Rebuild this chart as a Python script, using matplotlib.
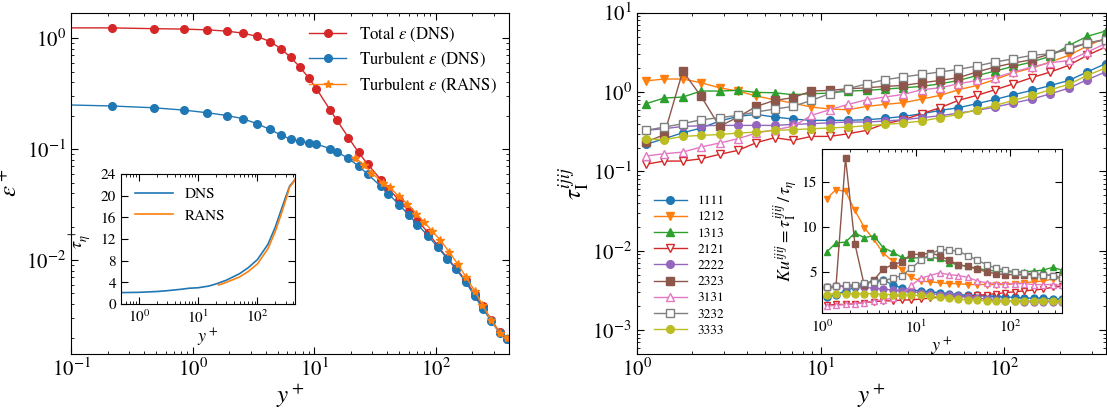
import numpy as np
import matplotlib
matplotlib.use("Agg")
import matplotlib.pyplot as plt

plt.rcParams['font.family'] = ['STIXGeneral', 'DejaVu Serif']
plt.rcParams['mathtext.fontset'] = 'stix'

# ---- left panel: dissipation ----
yp_dns = [0.1, 0.215, 0.476, 0.84, 1.31, 1.91, 2.60, 3.39, 4.31, 5.30, 6.37, 7.60, 8.96, 10.4,
          13.5, 15.3, 19.1, 23.1, 27.5, 35.2, 40.7, 49.8, 60.2, 70.6, 86.3, 104, 124, 146,
          176, 209, 244, 287, 335, 388]
eps_total = [1.24, 1.24, 1.22, 1.21, 1.19, 1.16, 1.11, 1.04, 0.933, 0.807, 0.674, 0.551, 0.441,
             0.351, 0.225, 0.183, 0.127, 0.0933, 0.0731, 0.0532, 0.0441, 0.0346, 0.0275,
             0.0227, 0.0177, 0.0134, 0.0104, 0.00847, 0.00655, 0.0049, 0.00381, 0.00289,
             0.00223, 0.00195]
eps_turb = [0.25, 0.245, 0.236, 0.225, 0.213, 0.201, 0.188, 0.169, 0.151, 0.134, 0.123, 0.118,
            0.114, 0.111, 0.101, 0.0946, 0.0824, 0.0702, 0.0594, 0.0463, 0.0395, 0.0316,
            0.0253, 0.0209, 0.0165, 0.0130, 0.0103, 0.00835, 0.00633, 0.0047, 0.00363,
            0.00279, 0.00219, 0.00195]
yp_rans = [21.8, 25.7, 29.5, 36.8, 41.8, 49.5, 58.0, 69.2, 80.0, 93.1, 109, 129, 152, 177,
           209, 242, 283, 335, 388]
eps_rans = [0.0829, 0.0722, 0.0611, 0.0496, 0.0451, 0.0376, 0.0323, 0.0262, 0.0220, 0.0183,
            0.0151, 0.0118, 0.00914, 0.00702, 0.00525, 0.00395, 0.00289, 0.00221, 0.00199]

# inset: Kolmogorov time scale
yp_tau_dns = [0.5, 1, 2, 3, 5, 7, 10, 15, 20, 30, 50, 70, 100, 150, 200, 250, 300, 350, 400, 430]
tau_dns = [2.1, 2.15, 2.3, 2.45, 2.7, 2.9, 3.0, 3.3, 3.7, 4.4, 5.6, 6.7, 8.2, 11.0, 14.2,
           17.3, 19.8, 21.8, 22.5, 23.0]
yp_tau_rans = [22, 30, 50, 70, 100, 150, 200, 250, 300, 350, 400, 430]
tau_rans = [3.5, 4.0, 5.0, 6.0, 7.4, 10.2, 13.4, 16.5, 19.2, 21.6, 22.4, 23.0]

# ---- right panel: integral time scales ----
yp = [1.12, 1.41, 1.78, 2.24, 2.82, 3.55, 4.47, 5.62, 7.08, 8.91, 11.2, 14.1, 17.8, 22.4,
      28.2, 35.5, 44.7, 56.2, 70.8, 89.1, 112, 141, 178, 224, 282, 355]
comps = ['1111', '1212', '1313', '2121', '2222', '2323', '3131', '3232', '3333']
tau_I = {
    '1111': [0.219, 0.258, 0.307, 0.352, 0.431, 0.493, 0.523, 0.484, 0.457, 0.44, 0.44, 0.44,
             0.448, 0.466, 0.493, 0.533, 0.587, 0.635, 0.713, 0.809, 0.925, 1.05, 1.21, 1.40,
             1.79, 2.28],
    '1212': [1.38, 1.46, 1.46, 1.31, 1.13, 1.03, 0.891, 0.80, 0.727, 0.647, 0.611, 0.599,
             0.659, 0.699, 0.734, 0.816, 0.908, 1.07, 1.21, 1.44, 1.75, 2.0, 2.4, 2.9, 3.8, 4.8],
    '1313': [0.713, 0.84, 0.865, 1.03, 1.03, 1.05, 0.99, 0.98, 0.925, 0.953, 0.97, 1.03, 1.05,
             1.09, 1.13, 1.18, 1.27, 1.40, 1.61, 1.84, 2.11, 2.39, 2.84, 3.87, 5.03, 5.87],
    '2121': [0.123, 0.135, 0.135, 0.144, 0.164, 0.184, 0.230, 0.266, 0.246, 0.276, 0.276,
             0.298, 0.329, 0.399, 0.448, 0.533, 0.635, 0.785, 0.908, 1.07, 1.27, 1.52, 1.79,
             2.17, 2.90, 3.69],
    '2222': [0.329, 0.345, 0.369, 0.376, 0.38, 0.38, 0.38, 0.38, 0.391, 0.399, 0.41, 0.419,
             0.419, 0.431, 0.448, 0.475, 0.503, 0.543, 0.587, 0.647, 0.727, 0.816, 0.95, 1.12,
             1.43, 1.79],
    '2323': [0.234, 0.29, 1.84, 0.882, 0.369, 0.484, 0.659, 0.785, 0.849, 1.03, 1.05, 1.10,
             1.13, 1.18, 1.21, 1.31, 1.40, 1.52, 1.79, 2.07, 2.32, 2.56, 3.04, 3.45, 4.15, 4.57],
    '3131': [0.156, 0.167, 0.175, 0.203, 0.228, 0.258, 0.304, 0.335, 0.369, 0.508, 0.599,
             0.699, 0.80, 0.865, 0.935, 1.07, 1.13, 1.27, 1.40, 1.52, 1.79, 2.07, 2.34, 2.5,
             3.19, 4.07],
    '3232': [0.329, 0.362, 0.399, 0.448, 0.475, 0.508, 0.56, 0.611, 0.659, 0.785, 0.953, 1.10,
             1.27, 1.43, 1.55, 1.67, 1.79, 1.93, 2.13, 2.39, 2.63, 2.90, 3.04, 3.59, 4.15, 4.57],
    '3333': [0.256, 0.251, 0.276, 0.284, 0.292, 0.304, 0.313, 0.329, 0.335, 0.345, 0.352,
             0.362, 0.376, 0.391, 0.407, 0.431, 0.475, 0.523, 0.599, 0.679, 0.785, 0.908, 1.07,
             1.25, 1.62, 2.01],
}
Ku = {
    '1111': [2.2, 2.5, 2.9, 3.3, 3.7, 4.0, 4.1, 3.6, 3.2, 3.0, 2.9, 2.8, 2.7, 2.6, 2.5, 2.4,
             2.4, 2.3, 2.3, 2.2, 2.2, 2.1, 2.1, 2.1, 2.0, 2.0],
    '1212': [13.1, 14.1, 13.9, 11.8, 9.9, 8.6, 7.1, 6.2, 5.2, 4.4, 4.0, 3.9, 3.8, 3.7, 3.7, 3.6,
             3.6, 3.6, 3.6, 3.6, 3.7, 3.8, 3.9, 4.0, 4.2, 4.4],
    '1313': [7.2, 8.2, 8.3, 9.3, 8.8, 9.0, 7.7, 7.2, 6.6, 6.5, 6.6, 6.6, 6.5, 6.0, 5.8, 5.6,
             5.4, 5.2, 5.1, 5.0, 5.0, 5.0, 5.1, 5.2, 5.5, 5.2],
    '2121': [1.3, 1.4, 1.4, 1.5, 1.6, 1.7, 1.8, 1.8, 1.9, 1.9, 2.0, 2.1, 2.2, 2.2, 2.3, 2.3,
             2.4, 2.5, 2.6, 2.7, 2.8, 2.9, 3.0, 3.1, 3.3, 3.4],
    '2222': [3.3, 3.4, 3.4, 3.4, 3.3, 3.2, 3.1, 3.0, 2.9, 2.8, 2.7, 2.6, 2.5, 2.4, 2.3, 2.2,
             2.1, 2.0, 1.9, 1.8, 1.8, 1.7, 1.7, 1.7, 1.7, 1.7],
    '2323': [3.3, 3.4, 17.6, 8.1, 3.5, 4.1, 5.3, 5.8, 6.1, 7.0, 6.9, 7.1, 6.8, 6.3, 5.8, 5.6,
             5.3, 5.0, 4.8, 4.7, 4.7, 4.7, 4.7, 4.7, 4.6, 4.3],
    '3131': [1.2, 1.3, 1.4, 1.5, 1.6, 1.8, 1.9, 2.1, 2.5, 3.5, 4.3, 4.6, 4.9, 4.7, 4.6, 4.4,
             4.0, 3.8, 3.7, 3.7, 3.7, 3.7, 3.6, 3.6, 3.6, 3.5],
    '3232': [3.3, 3.4, 3.5, 3.6, 3.8, 3.9, 4.0, 4.3, 4.6, 5.4, 6.3, 6.9, 7.5, 7.4, 7.3, 6.8,
             6.3, 5.8, 5.4, 5.2, 5.0, 4.9, 4.8, 4.7, 4.6, 4.3],
    '3333': [2.5, 2.6, 2.6, 2.6, 2.6, 2.6, 2.5, 2.5, 2.5, 2.4, 2.4, 2.3, 2.2, 2.1, 2.0, 1.9,
             1.9, 1.8, 1.8, 1.8, 1.8, 1.8, 1.8, 1.8, 1.8, 1.8],
}
colors = ['tab:blue', 'tab:orange', 'tab:green', 'tab:red', 'tab:purple', 'tab:brown',
          'tab:pink', 'tab:gray', 'tab:olive']
markers = ['o', 'v', '^', 'v', 'o', 's', '^', 's', 'o']
hollow = [False, False, False, True, False, False, True, True, False]


def style(ax, size=12):
    ax.tick_params(which='both', direction='in', top=True, right=True, labelsize=size)
    ax.tick_params(which='major', length=5)
    ax.tick_params(which='minor', length=2.5)


fig = plt.figure(figsize=(11.07, 4.15), dpi=100)

# left
ax1 = fig.add_axes([0.0644, 0.147, 0.3954, 0.8224])
ax1.plot(yp_dns, eps_total, '-o', color='tab:red', lw=1, ms=5.5, markevery=slice(1, None),
         label=r'Total $\varepsilon$ (DNS)')
ax1.plot(yp_dns, eps_turb, '-o', color='tab:blue', lw=1, ms=5.5, markevery=slice(1, None),
         label=r'Turbulent $\varepsilon$ (DNS)')
ax1.plot(yp_rans, eps_rans, '-*', color='tab:orange', lw=1, ms=6,
         label=r'Turbulent $\varepsilon$ (RANS)')
ax1.set_xscale('log')
ax1.set_yscale('log')
ax1.set_xlim(0.1, 400)
ax1.set_ylim(1.42e-3, 1.7)
ax1.set_xlabel(r'$y^+$', fontsize=18, labelpad=0)
ax1.set_ylabel(r'$\varepsilon^+$', fontsize=18, labelpad=2)
style(ax1, 15)
ax1.legend(loc='upper right', frameon=False, fontsize=12, handlelength=2.2,
           borderaxespad=0.3, labelspacing=0.4)

ins1 = fig.add_axes([0.1093, 0.2675, 0.1572, 0.3133])
ins1.plot(yp_tau_dns, tau_dns, color='tab:blue', lw=1.2, label='DNS')
ins1.plot(yp_tau_rans, tau_rans, color='tab:orange', lw=1.2, label='RANS')
ins1.set_xscale('log')
ins1.set_xlim(0.5, 430)
ins1.set_ylim(0, 24)
ins1.set_yticks([0, 4, 8, 12, 16, 20, 24])
ins1.set_xlabel(r'$y^+$', fontsize=13, labelpad=0)
ins1.set_ylabel(r'$\tau_\eta^+$', fontsize=13, labelpad=5)
style(ins1, 11)
ins1.legend(loc='upper left', frameon=False, fontsize=11, handlelength=2.5)

# right
ax2 = fig.add_axes([0.5752, 0.147, 0.4235, 0.8224])
for c, col, m, h in zip(comps, colors, markers, hollow):
    ax2.plot(yp, tau_I[c], '-', marker=m, color=col, lw=1, ms=5.5,
             mfc='white' if h else col, label=c)
ax2.set_xscale('log')
ax2.set_yscale('log')
ax2.set_xlim(1, 355)
ax2.set_ylim(5e-4, 10)
ax2.set_xlabel(r'$y^+$', fontsize=18, labelpad=0)
ax2.set_ylabel(r'$\tau_\mathrm{I}^{ijij}$', fontsize=18, labelpad=0)
style(ax2, 15)
ax2.legend(loc='lower left', frameon=False, fontsize=9.5, handlelength=2.5,
           labelspacing=0.3, borderaxespad=0.9)

ins2 = fig.add_axes([0.7425, 0.2446, 0.2168, 0.3964])
for c, col, m, h in zip(comps, colors, markers, hollow):
    ins2.plot(yp, Ku[c], '-', marker=m, color=col, lw=1, ms=5,
              mfc='white' if h else col)
ins2.set_xscale('log')
ins2.set_xlim(1, 355)
ins2.set_ylim(0.4, 18.6)
ins2.set_yticks([5, 10, 15])
ins2.set_xlabel(r'$y^+$', fontsize=13, labelpad=0)
ins2.set_ylabel(r'$Ku^{ijij}=\tau_\mathrm{I}^{ijij}\,/\,\tau_\eta$', fontsize=13, labelpad=2)
style(ins2, 11)

fig.savefig('out.png', dpi=100)
